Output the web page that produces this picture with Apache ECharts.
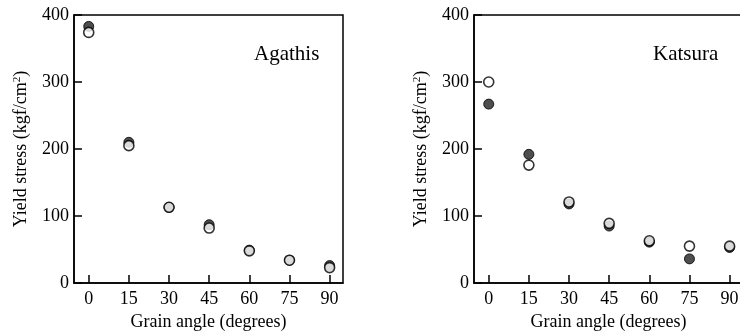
<!DOCTYPE html>
<html>
<head>
<meta charset="utf-8">
<script src="https://cdn.jsdelivr.net/npm/echarts@6/dist/echarts.min.js"></script>
<style>html,body{margin:0;padding:0;background:#fff}#c{width:740px;height:333px}</style>
</head>
<body>
<div id="c"></div>
<script>
var angles = [0, 15, 30, 45, 60, 75, 90];
var xTicks = [0, 15, 30, 45, 60, 75, 90];
var yTicks = [0, 100, 200, 300, 400];
var agathisFilled = [383, 210, 113, 87, 49, 34, 26];
var agathisOpen   = [374, 205, 113, 82, 48, 34, 23];
var katsuraFilled = [267, 192, 118, 85, 61, 36, 53];
var katsuraOpen   = [300, 176, 121, 89, 63, 55, 55];
var panelNames = ['Agathis', 'Katsura'];

function pairs(xs, ys) { return xs.map(function (x, i) { return [x, ys[i]]; }); }

var FONT = 'Liberation Serif';
var chart = echarts.init(document.getElementById('c'));

function xAxis(idx) {
  return {
    type: 'value', gridIndex: idx, min: -5.5, max: 95,
    name: 'Grain angle (degrees)', nameLocation: 'middle', nameGap: 30,
    nameTextStyle: { fontFamily: FONT, fontSize: 18, color: '#000' },
    axisLine: { show: true, onZero: false, lineStyle: { color: '#000', width: 1.5 } },
    axisTick: { show: true, inside: true, length: 8, customValues: xTicks, lineStyle: { color: '#000', width: 1.5 } },
    axisLabel: { customValues: xTicks, margin: 7, fontFamily: FONT, fontSize: 18, color: '#000' },
    splitLine: { show: false }
  };
}
function yAxis(idx) {
  return {
    type: 'value', gridIndex: idx, min: 0, max: 400, interval: 100,
    name: 'Yield stress (kgf/cm{sup|2})', nameLocation: 'middle', nameGap: 43, nameRotate: 90,
    nameTextStyle: { fontFamily: FONT, fontSize: 18, color: '#000',
      rich: { sup: { fontFamily: FONT, fontSize: 11, color: '#000', verticalAlign: 'top', padding: [0, 0, 8, 0] } } },
    axisLine: { show: true, onZero: false, lineStyle: { color: '#000', width: 1.5 } },
    axisTick: { show: true, inside: true, length: 8, lineStyle: { color: '#000', width: 1.5 } },
    axisLabel: { margin: 5, fontFamily: FONT, fontSize: 18, color: '#000' },
    splitLine: { show: false }
  };
}
function filled(idx, data) {
  return { type: 'scatter', xAxisIndex: idx, yAxisIndex: idx, data: pairs(angles, data),
    symbol: 'circle', symbolSize: 10, itemStyle: { color: '#222', borderColor: '#000', borderWidth: 1 }, z: 2 };
}
function open(idx, data) {
  return { type: 'scatter', xAxisIndex: idx, yAxisIndex: idx, data: pairs(angles, data),
    symbol: 'circle', symbolSize: 10, itemStyle: { color: '#fff', borderColor: '#000', borderWidth: 1.6 }, z: 3 };
}

chart.setOption({
  backgroundColor: '#fff',
  animation: false,
  title: [
    { text: panelNames[0], left: 249, top: 39, textStyle: { fontFamily: FONT, fontSize: 21, fontWeight: 'normal', color: '#000' } },
    { text: panelNames[1], left: 648, top: 39, textStyle: { fontFamily: FONT, fontSize: 21, fontWeight: 'normal', color: '#000' } }
  ],
  grid: [
    { left: 74, top: 15, width: 269, height: 268, outerBoundsMode: 'none', containLabel: false, show: true, borderColor: '#000', borderWidth: 1.5, backgroundColor: 'transparent' },
    { left: 474, top: 15, width: 269, height: 268, outerBoundsMode: 'none', containLabel: false, show: true, borderColor: '#000', borderWidth: 1.5, backgroundColor: 'transparent' }
  ],
  xAxis: [xAxis(0), xAxis(1)],
  yAxis: [yAxis(0), yAxis(1)],
  series: [
    filled(0, agathisFilled), open(0, agathisOpen),
    filled(1, katsuraFilled), open(1, katsuraOpen)
  ]
});
</script>
</body>
</html>
